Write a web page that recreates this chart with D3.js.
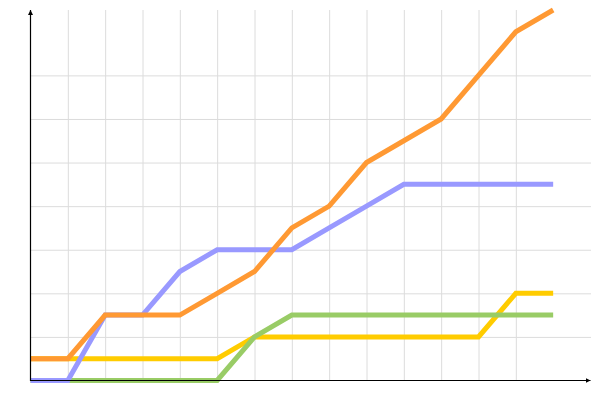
<!DOCTYPE html>
<html lang="en">
<head>
    <meta charset="UTF-8">
    <title>Line chart</title>
    <script src="https://d3js.org/d3.v7.min.js"></script>
    <style>
        body { margin: 0; background: #fff; }
        .grid line { stroke: #dcdcdc; stroke-width: 1; }
        .grid path { display: none; }
        .series { fill: none; stroke-width: 5; }
    </style>
</head>
<body>
    <svg id="chart" width="600" height="400"></svg>

    <script>
        // data
        const xValues = [0, 1, 2, 3, 4, 5, 6, 7, 8, 9, 10, 11, 12, 13, 14];
        const orangeValues = [1, 1, 3, 3, 3, 4, 5, 7, 8, 10, 11, 12, 14, 16, 17];
        const blueValues = [0, 0, 3, 3, 5, 6, 6, 6, 7, 8, 9, 9, 9, 9, 9];
        const yellowValues = [1, 1, 1, 1, 1, 1, 2, 2, 2, 2, 2, 2, 2, 4, 4];
        const greenValues = [0, 0, 0, 0, 0, 0, 2, 3, 3, 3, 3, 3, 3, 3, 3];
        const xGridTicks = [1, 2, 3, 4, 5, 6, 7, 8, 9, 10, 11, 12, 13];
        const yGridTicks = [2, 4, 6, 8, 10, 12, 14];

        // drawing order: yellow, green, blue, orange
        const series = [
            { name: "yellow", color: "#ffcc00", values: yellowValues },
            { name: "green", color: "#99cc66", values: greenValues },
            { name: "blue", color: "#9999ff", values: blueValues },
            { name: "orange", color: "#ff9933", values: orangeValues }
        ];

        const svg = d3.select("#chart");

        const x = d3.scaleLinear().domain([0, 15]).range([30.5, 590.5]);
        const y = d3.scaleLinear().domain([0, 17]).range([380.5, 10]);

        // grid
        svg.append("g")
            .attr("class", "grid")
            .attr("transform", "translate(0,380.5)")
            .call(d3.axisBottom(x).tickValues(xGridTicks).tickSize(-370.5).tickFormat(""));

        svg.append("g")
            .attr("class", "grid")
            .attr("transform", "translate(30.5,0)")
            .call(d3.axisLeft(y).tickValues(yGridTicks).tickSize(-560.5).tickFormat(""));

        // lines
        const line = d3.line()
            .x((d, i) => x(xValues[i]))
            .y(d => y(d));

        svg.selectAll(".series")
            .data(series)
            .enter()
            .append("path")
            .attr("class", "series")
            .attr("stroke", d => d.color)
            .attr("d", d => line(d.values));

        // arrow marker
        svg.append("defs").append("marker")
            .attr("id", "arrow")
            .attr("viewBox", "0 0 10 10")
            .attr("refX", 10)
            .attr("refY", 5)
            .attr("markerWidth", 5)
            .attr("markerHeight", 5)
            .attr("markerUnits", "userSpaceOnUse")
            .attr("orient", "auto")
            .append("path")
            .attr("d", "M0,0 L10,5 L0,10 Z")
            .attr("fill", "#000");

        // axes
        svg.append("line")
            .attr("x1", x(0)).attr("y1", y(0))
            .attr("x2", x(15)).attr("y2", y(0))
            .attr("stroke", "#000")
            .attr("stroke-width", 1.2)
            .attr("marker-end", "url(#arrow)");

        svg.append("line")
            .attr("x1", x(0)).attr("y1", y(0) + 0.5)
            .attr("x2", x(0)).attr("y2", y(17))
            .attr("stroke", "#000")
            .attr("stroke-width", 1.2)
            .attr("marker-end", "url(#arrow)");
    </script>
</body>
</html>
